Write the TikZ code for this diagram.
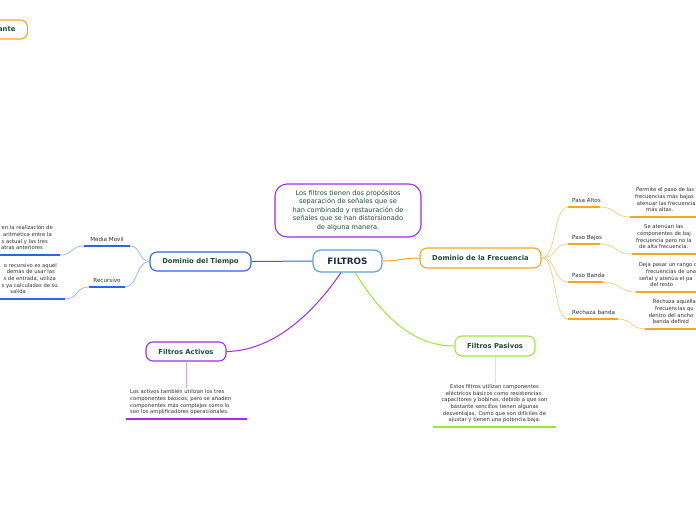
\documentclass[tikz,border=0pt]{standalone}
\usepackage{fontspec}
\setmainfont{DejaVu Sans}
\definecolor{orng}{HTML}{F5A623}
\definecolor{orngl}{HTML}{FBD08A}
\definecolor{blu}{HTML}{2F63E8}
\definecolor{blul}{HTML}{9DB8F2}
\definecolor{fblu}{HTML}{5BA3E0}
\definecolor{purp}{HTML}{A32AF0}
\definecolor{purpl}{HTML}{D6A6F7}
\definecolor{grn}{HTML}{9BE83C}
\definecolor{grnl}{HTML}{CFF5A0}
\definecolor{dkg}{HTML}{1E4A3C}
\definecolor{navy}{HTML}{1B2A4E}
\definecolor{txt}{HTML}{2E2E2E}
\tikzset{
  topic/.style={draw, line width=1.1pt, rounded corners=7pt, fill=white, text=dkg,
    font=\bfseries\fontsize{6.8}{8}\selectfont, inner sep=0pt},
  small/.style={text=txt, font=\fontsize{5.25}{6.6}\selectfont, inner sep=0pt, text depth=1.2pt},
  lbl/.style={text=txt, font=\fontsize{5.6}{6.5}\selectfont, inner sep=0pt, text depth=1.3pt},
  uline/.style={line width=1.2pt},
  conn/.style={line width=0.8pt},
}
\begin{document}
\begin{tikzpicture}[x=1pt,y=-1pt]
\useasboundingbox (0,0) rectangle (696,520);

% main nodes
\node[topic, draw=orng, anchor=east, minimum height=19pt, text width=40pt, align=right, inner xsep=12pt] (ante) at (28,29.5) {ante};
\node[topic, draw=fblu, line width=1.2pt, text=navy, font=\bfseries\fontsize{8.8}{10}\selectfont,
  minimum width=69pt, minimum height=22pt, rounded corners=8pt] (filtros) at (347.5,261) {FILTROS};
\node[draw=purp, line width=1.1pt, rounded corners=12pt, fill=white, text=dkg,
  font=\fontsize{6.6}{8.5}\selectfont, align=center, minimum width=146pt, minimum height=53pt, inner sep=0pt]
  (desc) at (348,210.5) {Los filtros tienen dos propósitos\\separación de señales que se\\han combinado y restauración de\\señales que se han distorsionado\\de alguna manera.};
\node[topic, draw=blu, minimum width=101pt, minimum height=19pt] (tiempo) at (200.5,261.5) {Dominio del Tiempo};
\node[topic, draw=orng, minimum width=121pt, minimum height=20pt] (frec) at (480.5,258) {Dominio de la Frecuencia};
\node[topic, draw=purp, minimum width=80pt, minimum height=19pt] (activos) at (186,351.5) {Filtros Activos};
\node[topic, draw=grn, minimum width=80pt, minimum height=20pt] (pasivos) at (495,346) {Filtros Pasivos};

% main connectors
\draw[blu, line width=1pt] (filtros.west) -- (tiempo.east);
\draw[orng, line width=1pt] (filtros.east) .. controls (400,261) and (402,258) .. (frec.west);
\draw[purp, line width=1pt] ([xshift=-6.5pt]filtros.south) .. controls (305,325) and (265,351) .. (activos.east);
\draw[grn, line width=1pt] ([xshift=7.5pt]filtros.south) .. controls (385,320) and (415,346) .. (pasivos.west);

% Dominio del Tiempo branches
\coordinate (mmL) at (84,246); \coordinate (mmR) at (130,246);
\coordinate (reL) at (89,287); \coordinate (reR) at (125,287);
\node[lbl, anchor=south] (mm) at (107,242.5) {Media Movil};
\node[lbl, anchor=south] (re) at (107,283.5) {Recursivo};
\draw[blul, conn] (tiempo.west) .. controls (139,261.5) and (141,246) .. (mmR);
\draw[blul, conn] (tiempo.west) .. controls (136,261.5) and (138,287) .. (reR);
\draw[blu, uline] (mmL) -- (mmR);
\draw[blu, uline] (reL) -- (reR);

\coordinate (mdR) at (60,255); \coordinate (mdL) at (-5,255);
\coordinate (rdR) at (65,299); \coordinate (rdL) at (-5,299);
\draw[blul, conn] (mmL) .. controls (70,246) and (74,255) .. (mdR);
\draw[blul, conn] (reL) .. controls (75,287) and (79,299) .. (rdR);
\draw[blu, uline] (mdL) -- (mdR);
\draw[blu, uline] (rdL) -- (rdR);
\node[small, anchor=south east, align=right] (md) at (53,251)
  {en la realización de\\aritmética entre la\kern1pt\\s actual y las tres\kern5pt\\atras anteriores\kern10pt};
\node[small, anchor=south east, align=right] (rd) at (58,295)
  {o recursivo es aquel\kern1pt\\demás de usar las\kern3pt\\s de entrada, utiliza\kern2pt\\s ya calculadas de su\\salida\kern32pt};

% Dominio de la Frecuencia branches
\coordinate (paL) at (568,207); \coordinate (paR) at (600,207);
\coordinate (pbL) at (568,244); \coordinate (pbR) at (600,244);
\coordinate (bnL) at (568,282); \coordinate (bnR) at (603,282);
\coordinate (rbL) at (568,319); \coordinate (rbR) at (618,319);
\draw[orngl, conn] (frec.east) .. controls (557,258) and (553,207) .. (paL);
\draw[orngl, conn] (frec.east) .. controls (557,258) and (553,244) .. (pbL);
\draw[orngl, conn] (frec.east) .. controls (557,258) and (553,282) .. (bnL);
\draw[orngl, conn] (frec.east) .. controls (557,258) and (553,319) .. (rbL);
\draw[orng, uline] (paL) -- (paR);
\draw[orng, uline] (pbL) -- (pbR);
\draw[orng, uline] (bnL) -- (bnR);
\draw[orng, uline] (rbL) -- (rbR);
\node[lbl, anchor=south west] (pa) at (572,203.5) {Pasa Altos};
\node[lbl, anchor=south west] (pb) at (572,240.5) {Paso Bajos};
\node[lbl, anchor=south west] (bn) at (572,278.5) {Paso Banda};
\node[lbl, anchor=south west] (rb) at (572,315.5) {Rechaza banda};

\coordinate (padL) at (630,217); \coordinate (padR) at (700,217);
\coordinate (pbdL) at (632,254); \coordinate (pbdR) at (700,254);
\coordinate (bndL) at (636,292); \coordinate (bndR) at (700,292);
\coordinate (rbdL) at (645,329); \coordinate (rbdR) at (700,329);
\draw[orngl, conn] (paR) .. controls (616,207) and (614,217) .. (padL);
\draw[orngl, conn] (pbR) .. controls (617,244) and (615,254) .. (pbdL);
\draw[orngl, conn] (bnR) .. controls (620,282) and (619,292) .. (bndL);
\draw[orngl, conn] (rbR) .. controls (632,319) and (631,329) .. (rbdL);
\draw[orng, uline] (padL) -- (padR);
\draw[orng, uline] (pbdL) -- (pbdR);
\draw[orng, uline] (bndL) -- (bndR);
\draw[orng, uline] (rbdL) -- (rbdR);
\node[small, anchor=south west, align=left] (pad) at (635,213)
  {\hspace*{1pt}Permite el paso de las\\frecuencias más bajas\\\hspace*{1.7pt}atenuar las frecuencia\\\hspace*{11pt}más altas.};
\node[small, anchor=south west, align=left] (pbd) at (636,250)
  {\hspace*{8pt}Se atenúan las\\\hspace*{1pt}componentes de baj\\frecuencia pero no la\\\hspace*{3pt}de alta frecuencia.};
\node[small, anchor=south west, align=left] (bnd) at (638.7,288)
  {Deja pasar un rango d\\\hspace*{7.3pt}frecuencias de una\\\hspace*{0.3pt}señal y atenúa el pa\\\hspace*{11.3pt}del resto};
\node[small, anchor=south west, align=left] (rbd) at (648.7,325)
  {\hspace*{4pt}Rechaza aquella\\\hspace*{6.3pt}frecuencias qu\\dentro del ancho\\\hspace*{4pt}banda definid};

% Filtros Activos
\coordinate (aT) at (186,388);
\draw[purpl, conn] (activos.south) -- (aT);
\node[small, anchor=south west, align=left] (ad) at (130,415)
  {Los activos también utilizan los tres\\componentes básicos, pero se añaden\\componentes más complejos como lo\\son los amplificadores operacionales.};
\coordinate (adL) at (126,419); \coordinate (adR) at (247,419);
\draw[purp, uline] (adL) -- (adR);

% Filtros Pasivos
\coordinate (pT) at (495,383);
\draw[grnl, conn] (pasivos.south) -- (pT);
\node[small, anchor=south, align=center] (psd) at (494.5,423)
  {Estos filtros utilizan componentes\\eléctricos básicos como resistencias,\\capacitores y bobinas, debido a que son\\bastante sencillos tienen algunas\\desventajas. Como que son difíciles de\\ajustar y tienen una potencia baja.};
\coordinate (psL) at (433,427); \coordinate (psR) at (556,427);
\draw[grn, uline] (psL) -- (psR);
\end{tikzpicture}
\end{document}
